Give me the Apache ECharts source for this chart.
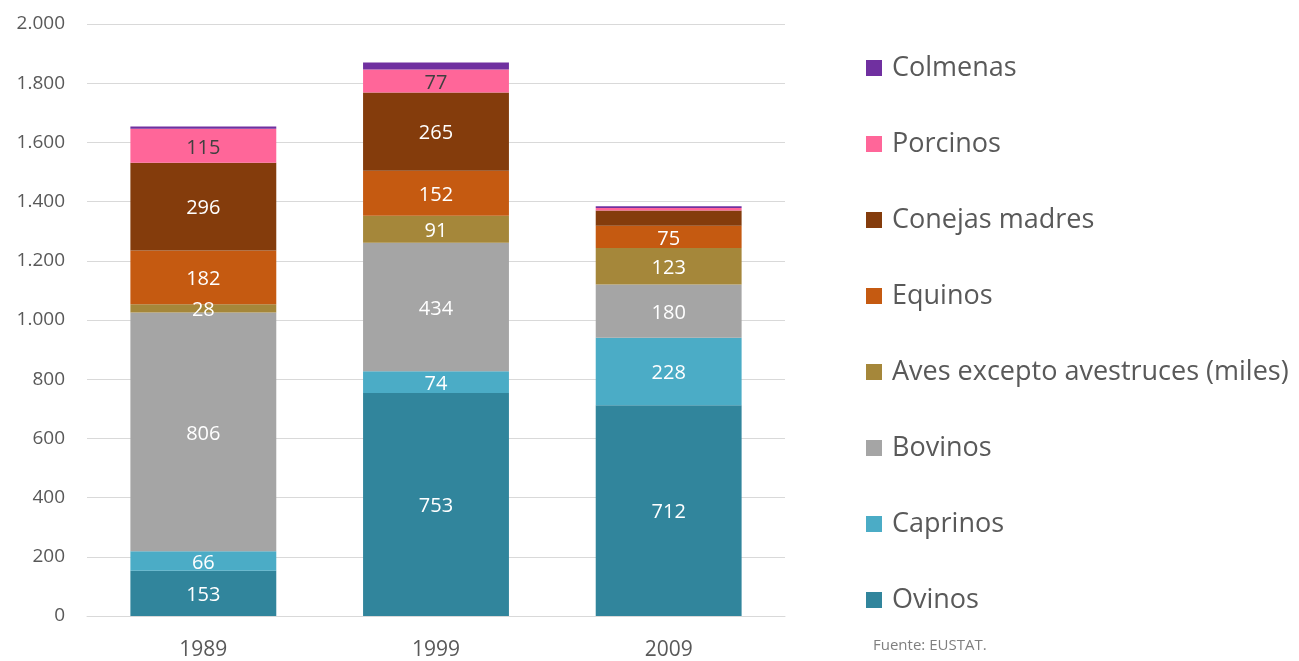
<!DOCTYPE html>
<html><head><meta charset="utf-8">
<script src="https://cdn.jsdelivr.net/npm/echarts@6/dist/echarts.min.js"></script>
<style>html,body{margin:0;padding:0;background:#fff}#c{width:1299px;height:661px}</style>
</head><body><div id="c"></div>
<script>
const categories = ['1989', '1999', '2009'];
const seriesNames = ['Ovinos', 'Caprinos', 'Bovinos', 'Aves excepto avestruces (miles)', 'Equinos', 'Conejas madres', 'Porcinos', 'Colmenas'];
const ovinos = [153, 753, 712];
const caprinos = [66, 74, 228];
const bovinos = [806, 434, 180];
const aves = [28, 91, 123];
const equinos = [182, 152, 75];
const conejas = [296, 265, 52];
const porcinos = [115, 77, 8];
const colmenas = [8, 24, 6];
const yTicks = [0, 200, 400, 600, 800, 1000, 1200, 1400, 1600, 1800, 2000];

const allValues = [ovinos, caprinos, bovinos, aves, equinos, conejas, porcinos, colmenas];
const colors = ['#31859C', '#4BACC6', '#A5A5A5', '#A5873A', '#C55A11', '#843C0C', '#FF6699', '#7030A0'];
const labelColors = ['#fff', '#fff', '#fff', '#fff', '#fff', '#fff', '#404040', '#fff'];
const minLabel = 20;
const fontFam = '"Open Sans", "Noto Sans", sans-serif';

const series = seriesNames.map((name, i) => ({
  name: name,
  type: 'bar',
  stack: 'total',
  barWidth: '62.7%',
  itemStyle: { color: colors[i] },
  data: allValues[i].map(v => ({
    value: v,
    label: { show: i < 7 && v >= minLabel && !(i === 5 && v < 60) }
  })),
  label: {
    position: 'inside',
    color: labelColors[i],
    fontSize: 20,
    fontFamily: fontFam,
    offset: [0, 2]
  }
}));

const chart = echarts.init(document.getElementById('c'));
chart.setOption({
  animation: false,
  backgroundColor: '#fff',
  grid: { left: 87, right: 514, top: 24, bottom: 44 },
  xAxis: {
    type: 'category',
    data: categories,
    axisLine: { lineStyle: { color: '#d9d9d9' } },
    axisTick: { show: false },
    axisLabel: { color: '#595959', fontSize: 21, fontFamily: fontFam, margin: 24 }
  },
  yAxis: {
    type: 'value',
    min: yTicks[0],
    max: yTicks[yTicks.length - 1],
    interval: 200,
    axisLine: { show: false },
    axisTick: { show: false },
    splitLine: { lineStyle: { color: '#d9d9d9', width: 1 } },
    axisLabel: {
      color: '#595959', fontSize: 19, fontFamily: fontFam, margin: 22,
      formatter: v => v.toString().replace(/\B(?=(\d{3})+(?!\d))/g, '.')
    }
  },
  legend: {
    orient: 'vertical',
    left: 861,
    top: 48,
    data: seriesNames.slice().reverse(),
    itemWidth: 16,
    itemHeight: 16,
    itemGap: 46,
    icon: 'rect',
    textStyle: { color: '#595959', fontSize: 27, fontFamily: fontFam, lineHeight: 30, padding: [0, 0, 0, 5] },
    selectedMode: false
  },
  graphic: [{
    type: 'text', left: 873, top: 638,
    style: { text: 'Fuente: EUSTAT.', fill: '#7f7f7f', fontSize: 15, fontFamily: fontFam }
  }],
  series: series
});
</script></body></html>
